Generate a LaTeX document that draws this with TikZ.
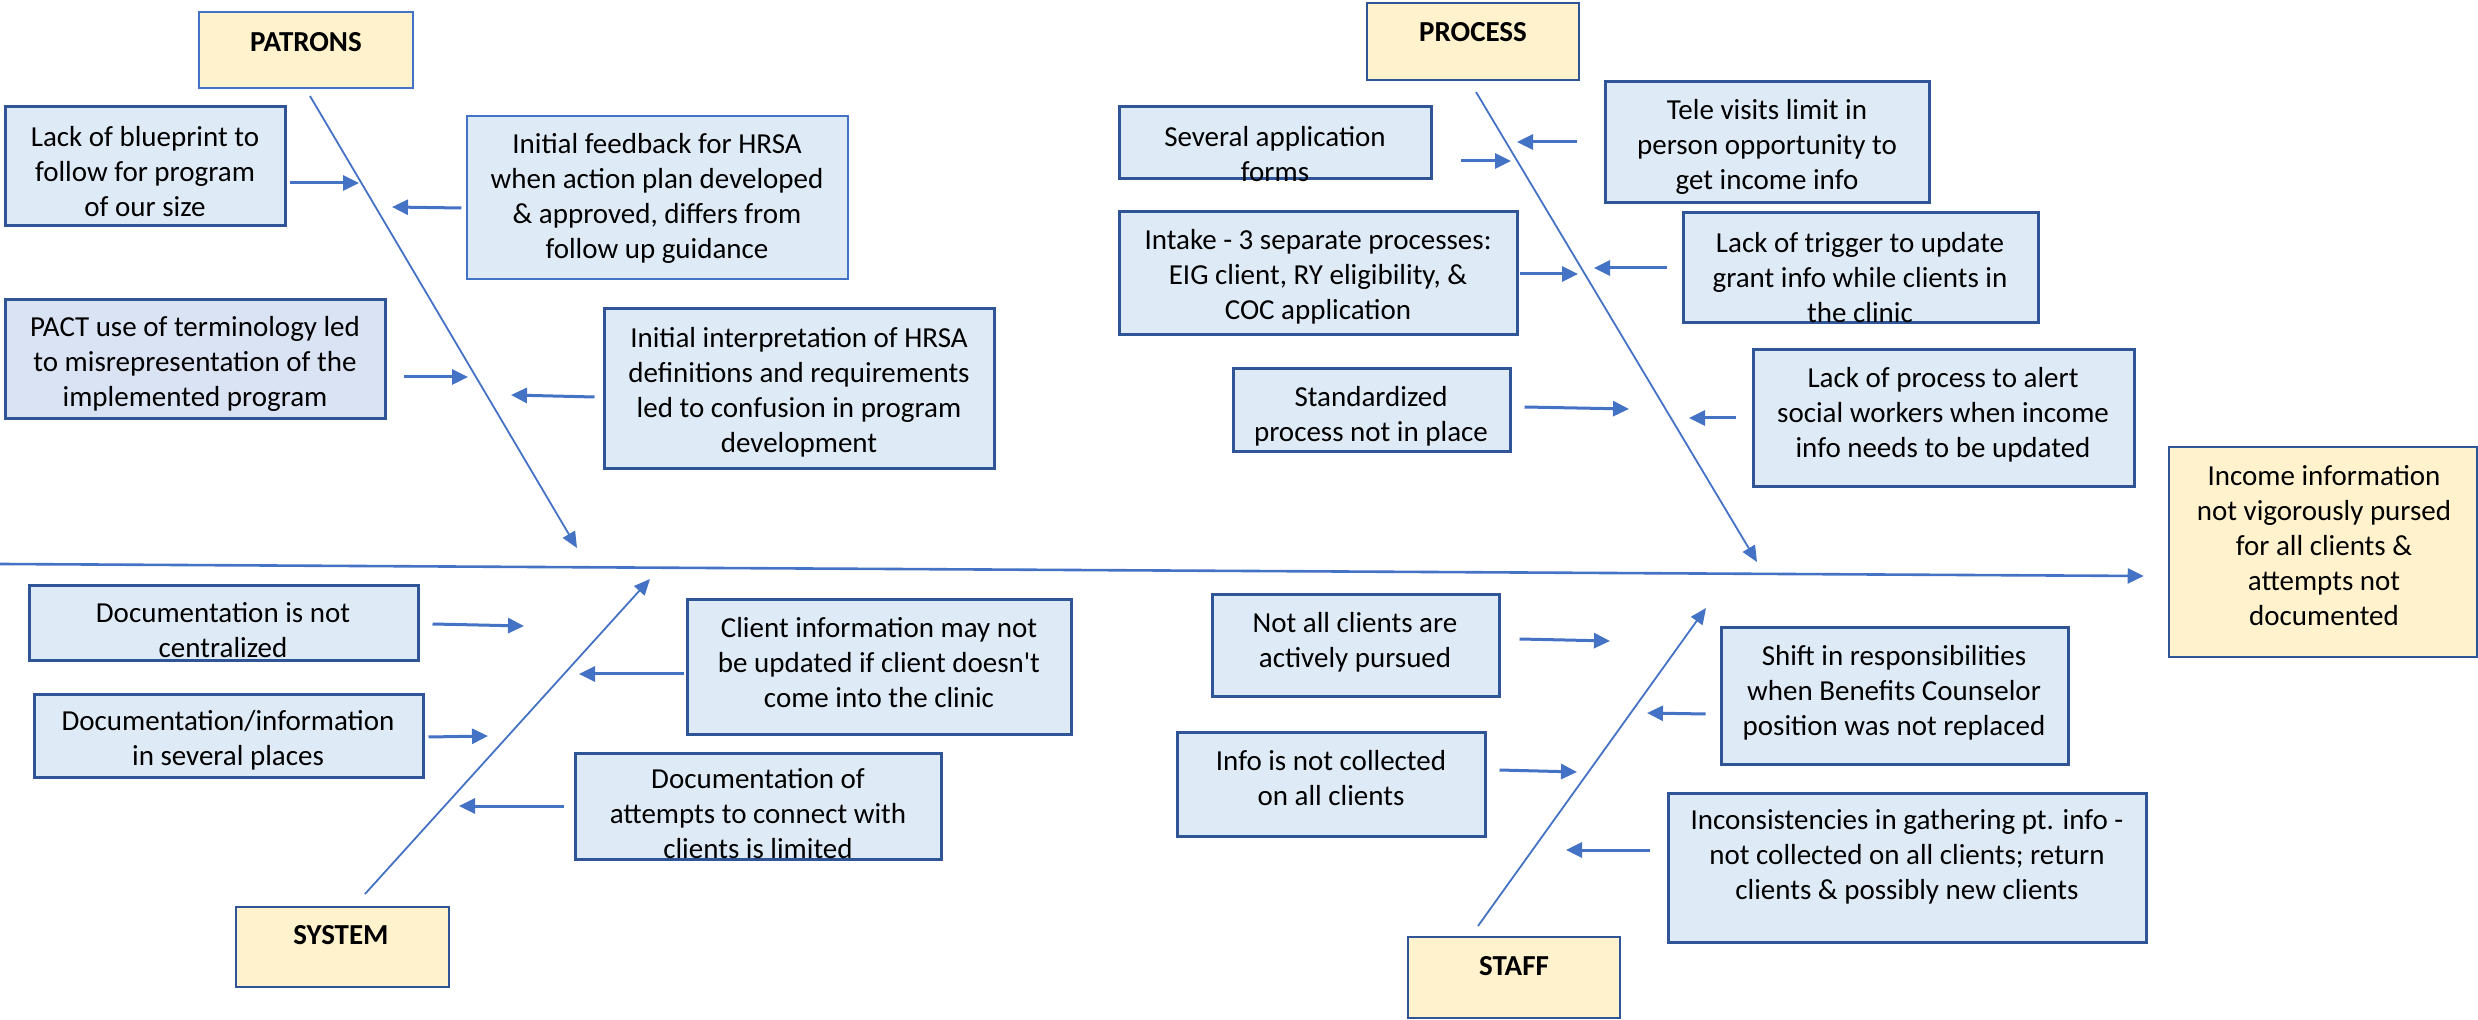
\documentclass[tikz,border=0pt]{standalone}
\usepackage{fontspec}
\setmainfont{Carlito}
\usetikzlibrary{arrows.meta,fit}
\definecolor{arrblue}{HTML}{4472C4}
\definecolor{darkb}{HTML}{2F5597}
\definecolor{bfill}{HTML}{DEEBF7}
\definecolor{pfill}{HTML}{DAE3F3}
\definecolor{yfill}{HTML}{FFF2CC}
\tikzset{
  bbox/.style={draw=darkb, line width=1.5pt, fill=bfill, inner sep=0pt},
  bthin/.style={draw=arrblue, line width=0.7pt, fill=bfill, inner sep=0pt},
  ybox/.style={draw=darkb, line width=1.3pt, fill=yfill, inner sep=0pt},
  ythin/.style={draw=arrblue, line width=0.8pt, fill=yfill, inner sep=0pt},
  txt/.style={align=center, inner sep=0pt, font=\fontsize{14.5pt}{17.5pt}\selectfont},
  cat/.style={inner sep=0pt, font=\fontsize{14.5pt}{17.5pt}\selectfont\bfseries},
  arr/.style={draw=arrblue, line width=1.5pt, -{Triangle[length=8pt,width=7.5pt]}},
  spine/.style={draw=arrblue, line width=0.9pt, -{Triangle[length=8pt,width=7pt]}},
  mainsp/.style={draw=arrblue, line width=1.3pt, -{Triangle[length=8pt,width=7.5pt]}}
}
\begin{document}
\begin{tikzpicture}[x=0.5pt,y=-0.5pt]
\useasboundingbox (0,0) rectangle (2478,1020);
% category boxes
\node[ythin, fit={(199,12)(413,88)}] (patrons) {};
\node[cat] (patrons-t) at (306,42) {PATRONS};
\node[ybox, fit={(1367,3)(1579,80)}] (process) {};
\node[cat] (process-t) at (1473,32) {PROCESS};
\node[ybox, fit={(236,907)(449,987)}] (system) {};
\node[cat] (system-t) at (341,935) {SYSTEM};
\node[ybox, fit={(1408,937)(1620,1018)}] (staff) {};
\node[cat] (staff-t) at (1514,966) {STAFF};
\node[ybox, fit={(2169,447)(2477,657)}] (income) {};
\node[txt] (income-t) at (2324,546) {Income information\\not vigorously pursed\\for all clients \&\\attempts not\\documented};
% cause boxes: PATRONS
\node[bbox, fit={(5,107)(285,226)}] (lb) {};
\node[txt] (lb-t) at (145,172) {Lack of blueprint to\\follow for program\\of our size};
\node[bthin, fit={(467,116)(848,279)}] (ifb) {};
\node[txt] (ifb-t) at (657,198) {Initial feedback for HRSA\\when action plan developed\\\& approved, differs from\\follow up guidance};
\node[bbox, fill=pfill, fit={(5,300)(385,419)}] (pact) {};
\node[txt] (pact-t) at (195,364) {PACT use of terminology led\\to misrepresentation of the\\implemented program};
\node[bbox, fit={(604,309)(994,469)}] (iint) {};
\node[txt] (iint-t) at (799,392) {Initial interpretation of HRSA\\definitions and requirements\\led to confusion in program\\development};
% SYSTEM
\node[bbox, fit={(29,586)(418,661)}] (dnc) {};
\node[txt] (dnc-t) at (223,630) {Documentation is not\\centralized};
\node[bbox, fit={(687,600)(1071,734)}] (cli) {};
\node[txt] (cli-t) at (879,663) {Client information may not\\be updated if client doesn\textquotesingle t\\come into the clinic};
\node[bbox, fit={(34,695)(423,777)}] (dip) {};
\node[txt] (dip-t) at (228,740) {Documentation/information\\in several places};
\node[bbox, fit={(575,753)(941,859)}] (doa) {};
\node[txt] (doa-t) at (758,814) {Documentation of\\attempts to connect with\\clients is limited};
% PROCESS
\node[bbox, fit={(1119,107)(1431,179)}] (saf) {};
\node[txt] (saf-t) at (1275,154) {Several application\\forms};
\node[bbox, fit={(1605,82)(1929,203)}] (tv) {};
\node[txt] (tv-t) at (1767,147) {Tele visits limit in\\person opportunity to\\get income info};
\node[bbox, fit={(1119,212)(1517,335)}] (intk) {};
\node[txt] (intk-t) at (1318,277) {Intake - 3 separate processes:\\EIG client, RY eligibility, \&\\COC application};
\node[bbox, fit={(1683,213)(2038,323)}] (lot) {};
\node[txt] (lot-t) at (1860,278) {Lack of trigger to update\\grant info while clients in\\the clinic};
\node[bbox, fit={(1233,369)(1510,452)}] (std) {};
\node[txt] (std-t) at (1371,416) {Standardized\\process not in place};
\node[bbox, fit={(1753,350)(2134,487)}] (lop) {};
\node[txt] (lop-t) at (1943,415) {Lack of process to alert\\social workers when income\\info needs to be updated};
% STAFF
\node[bbox, fit={(1212,595)(1499,697)}] (nac) {};
\node[txt] (nac-t) at (1355,642) {Not all clients are\\actively pursued};
\node[bbox, fit={(1721,628)(2068,764)}] (shift) {};
\node[txt] (shift-t) at (1894,693) {Shift in responsibilities\\when Benefits Counselor\\position was not replaced};
\node[bbox, fit={(1177,732)(1485,836)}] (info) {};
\node[txt] (info-t) at (1331,778) {Info is not collected\\on all clients};
\node[bbox, fit={(1668,793)(2146,942)}] (inc) {};
\node[txt] (inc-t) at (1907,857) {Inconsistencies in gathering pt. info -\\not collected on all clients; return\\clients \& possibly new clients};
% spine coordinates
\coordinate (mainS) at (0,564);
\coordinate (pS) at (310,96);  \coordinate (pE) at (577,548);
\coordinate (rS) at (1476,92); \coordinate (rE) at (1757,562);
\coordinate (sS) at (365,894); \coordinate (sE) at (650,579);
\coordinate (fS) at (1478,926);\coordinate (fE) at (1706,608);
\draw[mainsp] (mainS) -- ([xshift=-12pt]income.west |- 0,576);
\draw[spine] (pS) -- (pE);
\draw[spine] (rS) -- (rE);
\draw[spine] (sS) -- (sE);
\draw[spine] (fS) -- (fE);
% cause arrows (tip points on the bones)
\coordinate (a1) at (359,183);  \coordinate (a2) at (392,207);
\coordinate (a3) at (468,377);  \coordinate (a4) at (511,395);
\coordinate (a5) at (524,626);  \coordinate (a6) at (579,674);
\coordinate (a7) at (488,736);  \coordinate (a8) at (459,806);
\coordinate (a9) at (1511,161); \coordinate (a10) at (1517,142);
\coordinate (a11) at (1578,274);\coordinate (a12) at (1594,268);
\coordinate (a13) at (1629,409);\coordinate (a14) at (1689,418);
\coordinate (a15) at (1610,641);\coordinate (a16) at (1647,713);
\coordinate (a17) at (1577,772);\coordinate (a18) at (1566,850);
\draw[arr] ([xshift=1.5pt]lb.east |- 0,183) -- (a1);
\draw[arr] ([xshift=-2.5pt]ifb.west |- 0,208) -- (a2);
\draw[arr] ([xshift=8.5pt]pact.east |- 0,377) -- (a3);
\draw[arr] ([xshift=-4pt]iint.west |- 0,397) -- (a4);
\draw[arr] ([xshift=6.5pt]dnc.east |- 0,624) -- (a5);
\draw[arr] ([xshift=-1pt]cli.west |- 0,674) -- (a6);
\draw[arr] ([xshift=2pt]dip.east |- 0,737) -- (a7);
\draw[arr] ([xshift=-5pt]doa.west |- 0,806) -- (a8);
\draw[arr] ([xshift=14pt]saf.east |- 0,161) -- (a9);
\draw[arr] ([xshift=-13.5pt]tv.west |- 0,142) -- (a10);
\draw[arr] ([xshift=0.5pt]intk.east |- 0,274) -- (a11);
\draw[arr] ([xshift=-7.5pt]lot.west |- 0,268) -- (a12);
\draw[arr] ([xshift=6.5pt]std.east |- 0,407) -- (a13);
\draw[arr] ([xshift=-8pt]lop.west |- 0,418) -- (a14);
\draw[arr] ([xshift=9.5pt]nac.east |- 0,639) -- (a15);
\draw[arr] ([xshift=-7pt]shift.west |- 0,714) -- (a16);
\draw[arr] ([xshift=6.5pt]info.east |- 0,770) -- (a17);
\draw[arr] ([xshift=-8.5pt]inc.west |- 0,850) -- (a18);
\end{tikzpicture}
\end{document}
